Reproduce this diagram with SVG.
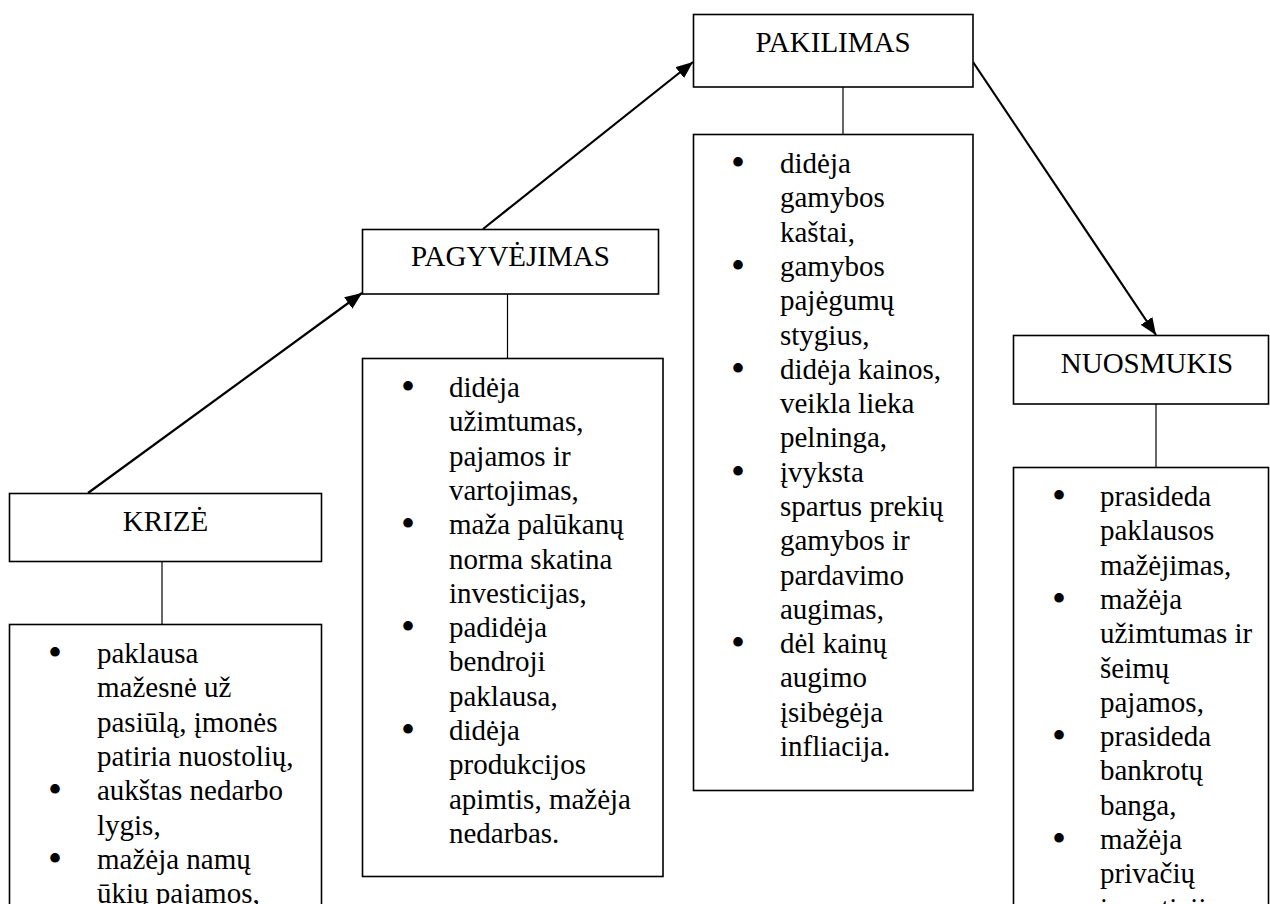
<svg xmlns="http://www.w3.org/2000/svg" width="1270" height="904" viewBox="0 0 1270 904">
<defs>
<style>
.box{fill:#fff;stroke:#000;stroke-width:1.6}
.hd{font-family:"Liberation Serif","Times New Roman",serif;font-size:29px;fill:#000;text-anchor:middle}
.tx{font-family:"Liberation Serif","Times New Roman",serif;font-size:29px;fill:#000}
.bl{font-family:"Liberation Serif","Times New Roman",serif;font-size:40px;fill:#000;text-anchor:middle}
.lk{stroke:#000;stroke-width:1.2;fill:none}
.ar{stroke:#000;stroke-width:2.2;fill:none;marker-end:url(#ah)}
</style>
<marker id="ah" markerUnits="userSpaceOnUse" markerWidth="18" markerHeight="14" refX="17" refY="7" orient="auto">
<path d="M0,0 L17,7 L0,14 Z" fill="#000"/>
</marker>
</defs>
<rect width="1270" height="904" fill="#fff"/>

<g id="connectors">
<line class="ar" x1="88" y1="493" x2="362" y2="293"/>
<line class="ar" x1="483" y1="229" x2="693" y2="62"/>
<line class="ar" x1="973" y1="62" x2="1156" y2="335"/>
<line class="lk" x1="162" y1="561.5" x2="162" y2="624.5"/>
<line class="lk" x1="507.5" y1="294" x2="507.5" y2="358.5"/>
<line class="lk" x1="843" y1="87" x2="843" y2="134.5"/>
<line class="lk" x1="1156" y1="404" x2="1156" y2="467.5"/>
</g>

<g id="krize">
<rect class="box" x="9.5" y="493.5" width="312" height="68"/>
<text class="hd" x="165.5" y="531">KRIZĖ</text>
</g>
<g id="krize-list">
<rect class="box" x="9.5" y="624.5" width="312" height="300"/>
<text class="bl" x="55" y="666">•</text>
<text class="bl" x="55" y="803.2">•</text>
<text class="bl" x="55" y="871.8">•</text>
<text class="tx" x="97" y="663">paklausa<tspan x="97" dy="34.3">mažesnė už</tspan><tspan x="97" dy="34.3">pasiūlą, įmonės</tspan><tspan x="97" dy="34.3">patiria nuostolių,</tspan><tspan x="97" dy="34.3">aukštas nedarbo</tspan><tspan x="97" dy="34.3">lygis,</tspan><tspan x="97" dy="34.3">mažėja namų</tspan><tspan x="97" dy="34.3">ūkių pajamos,</tspan></text>
</g>

<g id="pagyvejimas">
<rect class="box" x="362.5" y="229.5" width="296" height="64.5"/>
<text class="hd" x="510.5" y="266">PAGYVĖJIMAS</text>
</g>
<g id="pagyvejimas-list">
<rect class="box" x="362.5" y="358.5" width="300.5" height="518"/>
<text class="bl" x="408" y="400">•</text>
<text class="bl" x="408" y="537.2">•</text>
<text class="bl" x="408" y="640.1">•</text>
<text class="bl" x="408" y="743">•</text>
<text class="tx" x="449" y="397">didėja<tspan x="449" dy="34.3">užimtumas,</tspan><tspan x="449" dy="34.3">pajamos ir</tspan><tspan x="449" dy="34.3">vartojimas,</tspan><tspan x="449" dy="34.3">maža palūkanų</tspan><tspan x="449" dy="34.3">norma skatina</tspan><tspan x="449" dy="34.3">investicijas,</tspan><tspan x="449" dy="34.3">padidėja</tspan><tspan x="449" dy="34.3">bendroji</tspan><tspan x="449" dy="34.3">paklausa,</tspan><tspan x="449" dy="34.3">didėja</tspan><tspan x="449" dy="34.3">produkcijos</tspan><tspan x="449" dy="34.3">apimtis, mažėja</tspan><tspan x="449" dy="34.3">nedarbas.</tspan></text>
</g>

<g id="pakilimas">
<rect class="box" x="693.5" y="14.5" width="279.5" height="72.5"/>
<text class="hd" x="833" y="52">PAKILIMAS</text>
</g>
<g id="pakilimas-list">
<rect class="box" x="693.5" y="134.5" width="279.5" height="656"/>
<text class="bl" x="738" y="176">•</text>
<text class="bl" x="738" y="278.9">•</text>
<text class="bl" x="738" y="381.8">•</text>
<text class="bl" x="738" y="484.7">•</text>
<text class="bl" x="738" y="656.2">•</text>
<text class="tx" x="780" y="173">didėja<tspan x="780" dy="34.3">gamybos</tspan><tspan x="780" dy="34.3">kaštai,</tspan><tspan x="780" dy="34.3">gamybos</tspan><tspan x="780" dy="34.3">pajėgumų</tspan><tspan x="780" dy="34.3">stygius,</tspan><tspan x="780" dy="34.3">didėja kainos,</tspan><tspan x="780" dy="34.3">veikla lieka</tspan><tspan x="780" dy="34.3">pelninga,</tspan><tspan x="780" dy="34.3">įvyksta</tspan><tspan x="780" dy="34.3">spartus prekių</tspan><tspan x="780" dy="34.3">gamybos ir</tspan><tspan x="780" dy="34.3">pardavimo</tspan><tspan x="780" dy="34.3">augimas,</tspan><tspan x="780" dy="34.3">dėl kainų</tspan><tspan x="780" dy="34.3">augimo</tspan><tspan x="780" dy="34.3">įsibėgėja</tspan><tspan x="780" dy="34.3">infliacija.</tspan></text>
</g>

<g id="nuosmukis">
<rect class="box" x="1013.5" y="335.5" width="255" height="68.5"/>
<text class="hd" x="1147" y="373">NUOSMUKIS</text>
</g>
<g id="nuosmukis-list">
<rect class="box" x="1013.5" y="467.5" width="255" height="500"/>
<text class="bl" x="1059" y="509">•</text>
<text class="bl" x="1059" y="611.9">•</text>
<text class="bl" x="1059" y="749.1">•</text>
<text class="bl" x="1059" y="852">•</text>
<text class="tx" x="1100" y="506">prasideda<tspan x="1100" dy="34.3">paklausos</tspan><tspan x="1100" dy="34.3">mažėjimas,</tspan><tspan x="1100" dy="34.3">mažėja</tspan><tspan x="1100" dy="34.3">užimtumas ir</tspan><tspan x="1100" dy="34.3">šeimų</tspan><tspan x="1100" dy="34.3">pajamos,</tspan><tspan x="1100" dy="34.3">prasideda</tspan><tspan x="1100" dy="34.3">bankrotų</tspan><tspan x="1100" dy="34.3">banga,</tspan><tspan x="1100" dy="34.3">mažėja</tspan><tspan x="1100" dy="34.3">privačių</tspan><tspan x="1100" dy="34.3">investicijų</tspan></text>
</g>
</svg>
